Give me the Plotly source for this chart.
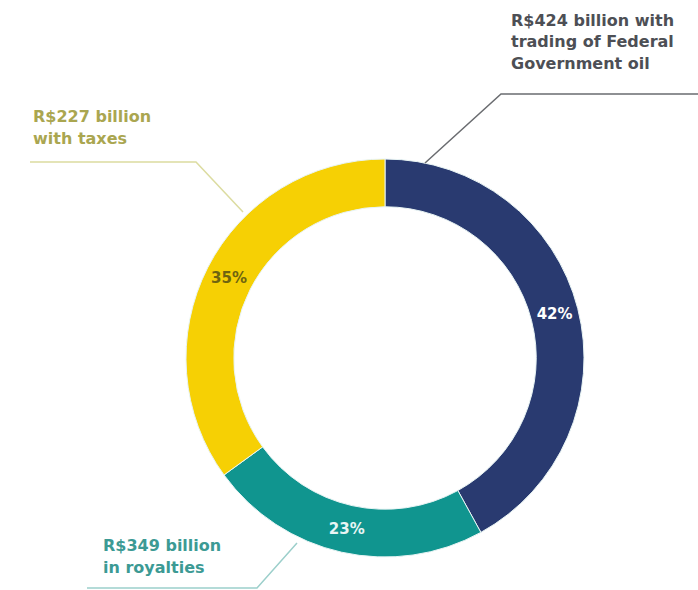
import plotly.graph_objects as go

# Data
categories = ["Trading of Federal Government oil", "Royalties", "Taxes"]
shares = [42, 23, 35]
pct_labels = ["42%", "23%", "35%"]
callouts = [
    ["R$424 billion with", "trading of Federal", "Government oil"],
    ["R$349 billion", "in royalties"],
    ["R$227 billion", "with taxes"],
]

W, H = 698, 590
slice_colors = ["#293a70", "#10958f", "#f6d004"]
pct_colors = ["#ffffff", "#e8f6f5", "#6e6410"]
callout_colors = ["#4d4f55", "#3c9a94", "#aaa650"]
FONT = "DejaVu Sans"


def px(x):
    return x / W


def py(y):
    return 1 - y / H


cx, cy, r = 385, 358, 199

fig = go.Figure(
    go.Pie(
        labels=categories,
        values=shares,
        text=pct_labels,
        textinfo="text",
        textposition="inside",
        insidetextorientation="horizontal",
        sort=False,
        direction="clockwise",
        rotation=0,
        hole=0.76,
        marker=dict(colors=slice_colors, line=dict(color="#e8f4f4", width=1)),
        textfont=dict(family=FONT, size=15, color=pct_colors, weight="bold"),
        domain=dict(x=[px(cx - r), px(cx + r)], y=[py(cy + r), py(cy - r)]),
        showlegend=False,
        hoverinfo="label+percent",
    )
)

# Leader lines (polylines in pixel space converted to paper)
leaders = [
    ([(425, 163), (501, 94), (698, 94)], "#6a6c70"),
    ([(297, 543), (257, 588), (87, 588)], "#9ccfcb"),
    ([(243, 212), (196, 162), (30, 162)], "#dcdca0"),
]
shapes = []
for pts, col in leaders:
    path = "M " + " L ".join(f"{px(x)},{py(y)}" for x, y in pts)
    shapes.append(dict(type="path", xref="paper", yref="paper", path=path,
                       line=dict(color=col, width=1.5)))

# first-line vertical centres and line spacing for each callout
label_pos = [(509, 20), (101, 545), (31, 117)]
line_gap = 22
annotations = []
for lines, col, (x, y) in zip(callouts, callout_colors, label_pos):
    for i, line in enumerate(lines):
        annotations.append(dict(
            text=line, x=px(x), y=py(y + i * line_gap), xref="paper", yref="paper",
            xanchor="left", yanchor="middle", align="left", showarrow=False,
            font=dict(family=FONT, size=16, color=col, weight="bold"),
        ))

fig.update_layout(
    width=W, height=H,
    margin=dict(l=0, r=0, t=0, b=0),
    paper_bgcolor="white", plot_bgcolor="white",
    shapes=shapes, annotations=annotations,
)

fig.write_html("out.html", config={"displayModeBar": False},
               post_script="document.body.style.margin='0px';")
